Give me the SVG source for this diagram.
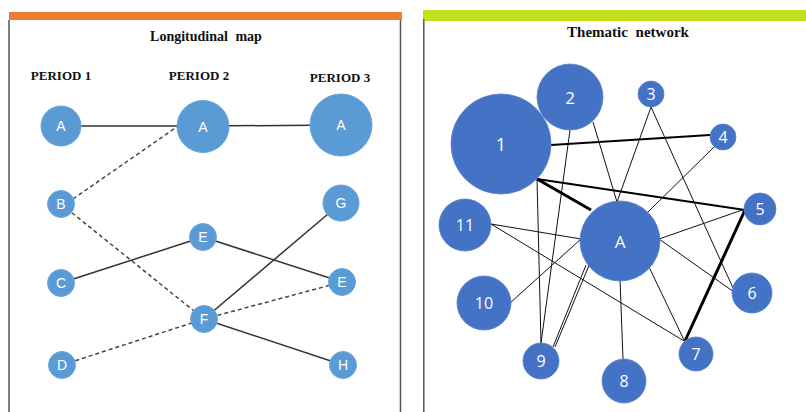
<svg xmlns="http://www.w3.org/2000/svg" width="806" height="412" viewBox="0 0 806 412">
<style>
.title{font-family:"Liberation Serif","DejaVu Serif",serif;font-weight:bold;font-size:14px;fill:#111;text-anchor:middle;word-spacing:4px}
.per{font-family:"Liberation Serif","DejaVu Serif",serif;font-weight:bold;font-size:13px;fill:#111;text-anchor:middle}
.ln circle{fill:#5B9BD5;stroke:#6AA6DC;stroke-width:1}
.ln text{font-family:"Liberation Sans","DejaVu Sans",sans-serif;font-size:14px;fill:#fff;text-anchor:middle;dominant-baseline:central}
.tn circle{fill:#4472C4;stroke:#5580CC;stroke-width:0.8}
.tn text{font-family:"Open Sans","Liberation Sans",sans-serif;font-size:16px;fill:#fff;text-anchor:middle;dominant-baseline:central}
.s{stroke:#333;stroke-width:1.5;fill:none}
.d{stroke:#444;stroke-width:1.5;stroke-dasharray:4 3;fill:none}
.t{stroke:#111;stroke-width:1;fill:none}
.k{stroke:#000;stroke-width:2.2;fill:none}
.kk{stroke:#000;stroke-width:3;fill:none}
.frame{stroke:#555;stroke-width:1.5;fill:none}
</style>

<!-- Left panel -->
<g id="left-panel">
<rect x="9" y="12" width="393" height="8" fill="#ED7D31"/>
<line class="frame" x1="9" y1="20" x2="9" y2="412"/>
<line class="frame" x1="400.5" y1="20" x2="400.5" y2="412"/>
<text class="title" x="206" y="41">Longitudinal map</text>
<text class="per" x="61" y="80">PERIOD 1</text>
<text class="per" x="199" y="80">PERIOD 2</text>
<text class="per" x="340" y="82">PERIOD 3</text>
</g>

<g id="left-connectors">
<line class="s" x1="61" y1="126" x2="203" y2="126"/>
<line class="s" x1="203" y1="126" x2="341" y2="125"/>
<line class="d" x1="73" y1="199" x2="178" y2="126"/>
<line class="d" x1="61" y1="204" x2="204" y2="319"/>
<line class="s" x1="61" y1="283" x2="203" y2="237"/>
<line class="s" x1="203" y1="237" x2="342" y2="282"/>
<line class="s" x1="204" y1="319" x2="341" y2="203"/>
<line class="d" x1="204" y1="319" x2="342" y2="282"/>
<line class="d" x1="62" y1="365" x2="204" y2="319"/>
<line class="s" x1="204" y1="319" x2="343" y2="365"/>
</g>

<g id="L-A1" class="ln"><circle cx="61" cy="126" r="20"/><text x="61" y="126">A</text></g>
<g id="L-A2" class="ln"><circle cx="203" cy="126.5" r="26"/><text x="203" y="126.5">A</text></g>
<g id="L-A3" class="ln"><circle cx="341" cy="125" r="31"/><text x="341" y="125">A</text></g>
<g id="L-B" class="ln"><circle cx="61" cy="204" r="13.5"/><text x="61" y="204">B</text></g>
<g id="L-G" class="ln"><circle cx="341" cy="203" r="18"/><text x="341" y="203">G</text></g>
<g id="L-E2" class="ln"><circle cx="203" cy="237" r="13.5"/><text x="203" y="237">E</text></g>
<g id="L-C" class="ln"><circle cx="61" cy="283" r="13.5"/><text x="61" y="283">C</text></g>
<g id="L-E3" class="ln"><circle cx="342" cy="282" r="13.5"/><text x="342" y="282">E</text></g>
<g id="L-F" class="ln"><circle cx="204" cy="319" r="13.5"/><text x="204" y="319">F</text></g>
<g id="L-D" class="ln"><circle cx="62" cy="365" r="13.5"/><text x="62" y="365">D</text></g>
<g id="L-H" class="ln"><circle cx="343" cy="365" r="13.5"/><text x="343" y="365">H</text></g>

<!-- Right panel -->
<g id="right-panel">
<rect x="423" y="10" width="383" height="11" fill="#C5E01A"/>
<line class="frame" x1="423.8" y1="19" x2="423.8" y2="412" stroke="#444"/>
<text class="title" x="628" y="37" style="font-size:15px">Thematic network</text>
</g>

<g id="right-connectors">
<line class="k" x1="551" y1="145" x2="710" y2="135"/>
<line class="k" x1="537" y1="179" x2="745" y2="210"/>
<line class="kk" x1="537" y1="179" x2="591" y2="210"/>
<line class="t" x1="537" y1="179" x2="541" y2="343"/>
<line class="t" x1="570" y1="130" x2="541" y2="343"/>
<line class="t" x1="593" y1="122" x2="617" y2="202"/>
<line class="t" x1="651" y1="107" x2="617" y2="202"/>
<line class="t" x1="651" y1="107" x2="733" y2="288"/>
<line class="t" x1="714" y1="147" x2="648" y2="212"/>
<line class="t" x1="491" y1="224" x2="581" y2="239"/>
<line class="t" x1="491" y1="224" x2="684" y2="341"/>
<line class="t" x1="510" y1="303" x2="581" y2="239"/>
<line class="t" x1="590" y1="263" x2="555" y2="347"/>
<line class="t" x1="586" y1="265" x2="553" y2="347"/>
<line class="t" x1="620" y1="279" x2="623" y2="359"/>
<line class="t" x1="649" y1="267" x2="684" y2="340"/>
<line class="t" x1="659" y1="239" x2="745" y2="209"/>
<line class="t" x1="659" y1="239" x2="734" y2="292"/>
<line class="kk" x1="745" y1="210" x2="685" y2="341"/>
</g>

<g id="T-1" class="tn"><circle cx="501" cy="144" r="50"/><text x="501" y="144" style="font-size:18px">1</text></g>
<g id="T-2" class="tn"><circle cx="570" cy="97" r="33"/><text x="570" y="97" style="font-size:17px">2</text></g>
<g id="T-3" class="tn"><circle cx="651" cy="94" r="13"/><text x="651" y="94">3</text></g>
<g id="T-4" class="tn"><circle cx="723" cy="137" r="13"/><text x="723" y="137">4</text></g>
<g id="T-5" class="tn"><circle cx="760" cy="209" r="16"/><text x="760" y="209">5</text></g>
<g id="T-A" class="tn"><circle cx="620" cy="241" r="40"/><text x="620" y="241" style="font-size:17px">A</text></g>
<g id="T-11" class="tn"><circle cx="465" cy="225" r="26"/><text x="465" y="225">11</text></g>
<g id="T-10" class="tn"><circle cx="484" cy="303" r="27"/><text x="484" y="303">10</text></g>
<g id="T-9" class="tn"><circle cx="541" cy="361" r="18"/><text x="541" y="361">9</text></g>
<g id="T-8" class="tn"><circle cx="624" cy="381" r="22"/><text x="624" y="381">8</text></g>
<g id="T-7" class="tn"><circle cx="696" cy="354" r="17"/><text x="696" y="354">7</text></g>
<g id="T-6" class="tn"><circle cx="752" cy="293" r="20"/><text x="752" y="293">6</text></g>
</svg>
